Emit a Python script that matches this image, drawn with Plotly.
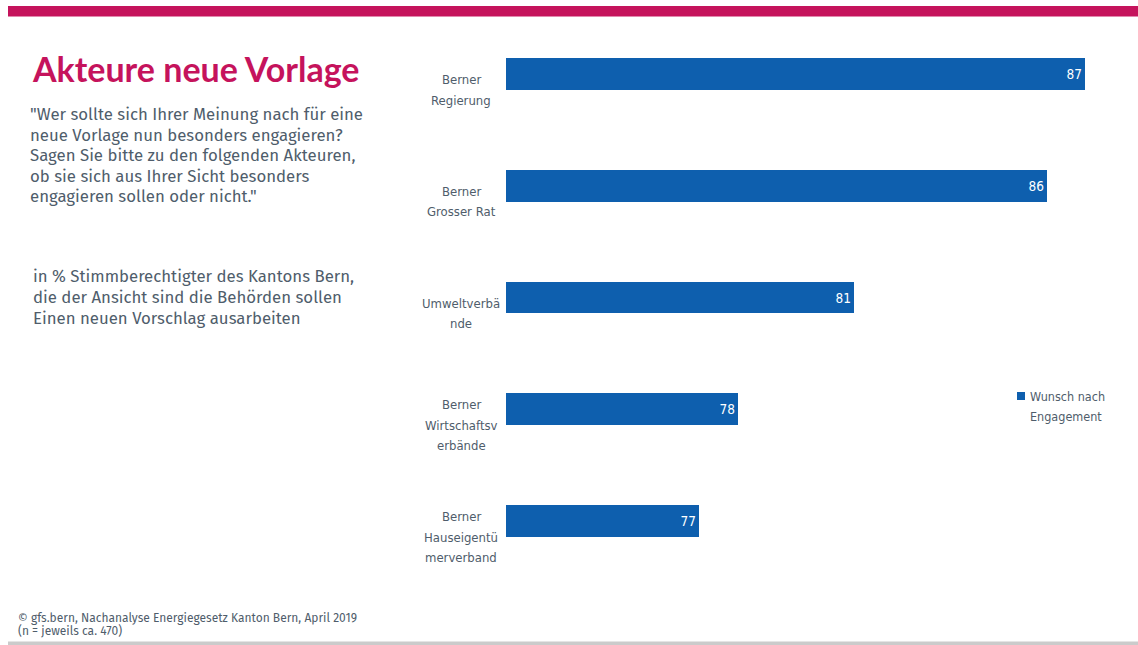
import plotly.graph_objects as go

# Survey results: share wishing for engagement per actor (in %)
actors = [
    "Berner<br>Regierung",
    "Berner<br>Grosser Rat",
    "Umweltverbä<br>nde",
    "Berner<br>Wirtschaftsv<br>erbände",
    "Berner<br>Hauseigentü<br>merverband",
]
values = [87, 86, 81, 78, 77]
series_name = "Wunsch nach<br>Engagement"

title_text = "Akteure neue Vorlage"
question_text = ("\"Wer sollte sich Ihrer Meinung nach für eine<br>neue Vorlage nun besonders engagieren?"
                 "<br>Sagen Sie bitte zu den folgenden Akteuren,<br>ob sie sich aus Ihrer Sicht besonders"
                 "<br>engagieren sollen oder nicht.\"")
base_text = ("in % Stimmberechtigter des Kantons Bern,<br>die der Ansicht sind die Behörden sollen"
             "<br>Einen neuen Vorschlag ausarbeiten")
source_text = "© gfs.bern, Nachanalyse Energiegesetz Kanton Bern, April 2019<br>(n = jeweils ca. 470)"

W, H = 1138, 645
M_L, M_R, M_T, M_B = 506, 14, 18, 68

BLUE = "#0E5FAE"
MAGENTA = "#C5135C"
TEXT = "#4F5D6B"
NARROW = "DejaVu Sans Condensed, Liberation Sans Narrow, Arial Narrow, sans-serif"
SANS = "Fira Sans, Open Sans, sans-serif"

plot_w = W - M_L - M_R
plot_h = H - M_T - M_B


def px_x(px):
    return (px - M_L) / plot_w


def px_y(py):
    return (H - M_B - py) / plot_h


def text_lines(text, x_px, y_first_px, spacing, font, xanchor="left"):
    """One annotation per line so the line spacing can be set freely."""
    out = []
    for i, line in enumerate(text.split("<br>")):
        out.append(dict(
            x=px_x(x_px), y=px_y(y_first_px + i * spacing), xref="paper", yref="paper",
            xanchor=xanchor, yanchor="middle", text=line, showarrow=False, font=font,
        ))
    return out


fig = go.Figure()
fig.add_trace(go.Bar(
    y=actors,
    x=values,
    orientation="h",
    name=series_name,
    marker=dict(color=BLUE, line=dict(width=0)),
    width=0.286,
    text=[str(v) for v in values],
    textposition="inside",
    insidetextanchor="end",
    textfont=dict(family=NARROW, size=13.5, color="white"),
    cliponaxis=False,
    showlegend=False,
))

label_font = dict(family=NARROW, size=13, color=TEXT)
LABEL_GAP = 20.5
annotations = []
# category labels: each line centred, block set slightly below the bar
for a in actors:
    parts = a.split("<br>")
    first = 16 - (len(parts) - 1) * LABEL_GAP / 2
    for i, part in enumerate(parts):
        annotations.append(dict(
            x=px_x(461), xref="paper", y=a, yref="y", yshift=-(first + i * LABEL_GAP),
            text=part, showarrow=False, xanchor="center", yanchor="middle", font=label_font,
        ))

# legend entry next to the bars
annotations += text_lines(series_name, 1028, 396, 20, dict(family=NARROW, size=12.5, color=TEXT))

annotations.append(dict(
    x=px_x(30), y=px_y(68), xref="paper", yref="paper", xanchor="left", yanchor="middle",
    text="<b>%s</b>" % title_text, showarrow=False,
    font=dict(family="Lato, sans-serif", size=34, color=MAGENTA)))
para_font = dict(family=SANS, size=16.8, color=TEXT)
annotations += text_lines(question_text, 28, 114, 20.5, para_font)
annotations += text_lines(base_text, 31, 276, 20.8, para_font)
annotations += text_lines(source_text, 16, 617.5, 13, dict(family=SANS, size=12, color=TEXT))

shapes = [
    # accent stripe across the top
    dict(type="rect", xref="paper", yref="paper",
         x0=px_x(8), x1=px_x(W), y0=px_y(16.5), y1=px_y(6),
         fillcolor=MAGENTA, line=dict(width=0), layer="above"),
    # footer rule
    dict(type="rect", xref="paper", yref="paper",
         x0=px_x(8), x1=px_x(W), y0=px_y(645), y1=px_y(641.5),
         fillcolor="#CBCBCB", line=dict(width=0)),
    # legend swatch
    dict(type="rect", xref="paper", yref="paper",
         x0=px_x(1017), x1=px_x(1025), y0=px_y(400), y1=px_y(392),
         fillcolor=BLUE, line=dict(width=0)),
]

fig.update_layout(
    width=W, height=H,
    margin=dict(l=M_L, r=M_R, t=M_T, b=M_B, pad=0, autoexpand=False),
    paper_bgcolor="white", plot_bgcolor="white",
    bargap=0,
    showlegend=False,
    xaxis=dict(range=[72, 88], visible=False, fixedrange=True),
    yaxis=dict(autorange=False, range=[len(actors) - 0.5, -0.5], showticklabels=False,
               showgrid=False, zeroline=False, showline=False, ticks=""),
    annotations=annotations,
    shapes=shapes,
    uniformtext=dict(mode="show", minsize=8),
)

fig.write_html("out.html")
